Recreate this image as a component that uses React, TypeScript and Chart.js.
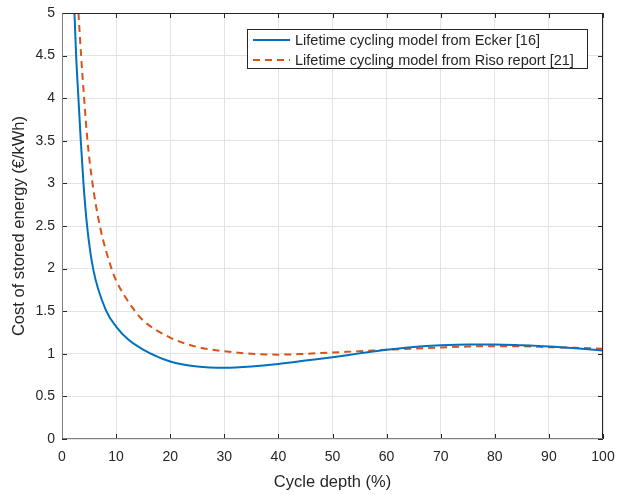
import { useEffect, useRef } from "react";
import { Chart, registerables } from "chart.js";

Chart.register(...registerables);

// Cycle depth (%) and cost (€/kWh)
const eckerDepth = [2.31, 2.61, 3.04, 3.47, 3.97, 4.64, 5.75, 8.2, 10, 12.2, 15, 20, 25, 30, 35, 40, 45, 50, 55, 60, 65, 70, 75, 80, 85, 90, 95, 100];
const eckerCost = [5.0, 4.5, 4.0, 3.5, 3.0, 2.5, 2.0, 1.5, 1.32, 1.17, 1.05, 0.91, 0.85, 0.835, 0.85, 0.88, 0.92, 0.96, 1.005, 1.047, 1.08, 1.1, 1.11, 1.11, 1.1, 1.086, 1.065, 1.04];

const risoDepth = [3.04, 3.53, 4.09, 4.71, 5.64, 7.0, 9.15, 10, 13.5, 15, 20, 25, 30, 35, 40, 45, 50, 55, 60, 65, 70, 75, 80, 85, 90, 95, 100];
const risoCost = [5.0, 4.5, 4.0, 3.5, 3.0, 2.5, 2.0, 1.86, 1.5, 1.39, 1.19, 1.08, 1.03, 1.0, 0.99, 1.0, 1.016, 1.03, 1.047, 1.06, 1.074, 1.085, 1.09, 1.088, 1.078, 1.07, 1.06];

const seriesLabels = [
  "Lifetime cycling model from Ecker [16]",
  "Lifetime cycling model from Riso report [21]",
];
const xTitle = "Cycle depth (%)";
const yTitle = "Cost of stored energy (€/kWh)";

const FONT = "'Liberation Sans', Arial, Helvetica, sans-serif";
const TEXT = "#262626";

const boxPlugin = {
  id: "matlabBox",
  afterDraw(chart: any) {
    const { ctx, chartArea: a, scales } = chart;
    const xs = scales.x;
    const ys = scales.y;
    ctx.save();
    ctx.strokeStyle = TEXT;
    ctx.lineWidth = 1;
    const tl = 5;
    ctx.beginPath();
    xs.ticks.forEach((t: any) => {
      const px = Math.round(xs.getPixelForValue(t.value)) + 0.5;
      ctx.moveTo(px, a.bottom);
      ctx.lineTo(px, a.bottom - tl);
      ctx.moveTo(px, a.top);
      ctx.lineTo(px, a.top + tl);
    });
    ys.ticks.forEach((t: any) => {
      const py = Math.round(ys.getPixelForValue(t.value)) + 0.5;
      ctx.moveTo(a.left, py);
      ctx.lineTo(a.left + tl, py);
      ctx.moveTo(a.right, py);
      ctx.lineTo(a.right - tl, py);
    });
    ctx.stroke();
    const l = Math.round(a.left) + 0.5;
    const r = Math.round(a.right) - 0.5;
    const t = Math.round(a.top) + 0.5;
    const b = Math.round(a.bottom) - 0.5;
    ctx.strokeStyle = "#262626";
    ctx.beginPath();
    ctx.moveTo(l, t);
    ctx.lineTo(r, t);
    ctx.lineTo(r, b);
    ctx.stroke();
    ctx.strokeStyle = "#808080";
    ctx.beginPath();
    ctx.moveTo(l, t);
    ctx.lineTo(l, b);
    ctx.lineTo(r, b);
    ctx.stroke();

    // legend
    const lx = 247, ly = 29, lw = 340, lh = 39;
    ctx.fillStyle = "#ffffff";
    ctx.fillRect(lx, ly, lw, lh);
    ctx.strokeStyle = "#262626";
    ctx.strokeRect(lx + 0.5, ly + 0.5, lw, lh);
    ctx.font = `14.5px ${FONT}`;
    ctx.textBaseline = "middle";
    ctx.textAlign = "left";
    chart.data.datasets.forEach((ds: any, i: number) => {
      const yy = ly + 11 + i * 20;
      ctx.strokeStyle = ds.borderColor;
      ctx.lineWidth = ds.borderWidth;
      ctx.setLineDash(ds.borderDash || []);
      ctx.beginPath();
      ctx.moveTo(lx + 6, yy);
      ctx.lineTo(lx + 43, yy);
      ctx.stroke();
      ctx.setLineDash([]);
      ctx.fillStyle = TEXT;
      ctx.fillText(ds.label, lx + 48, yy + 1);
    });
    ctx.restore();
  },
};

export default function App() {
  const ref = useRef<HTMLCanvasElement>(null);
  useEffect(() => {
    document.body.style.margin = "0";
    const chart = new Chart(ref.current!, {
      type: "line",
      data: {
        datasets: [
          {
            label: seriesLabels[0],
            data: eckerDepth.map((x, i) => ({ x, y: eckerCost[i] })),
            borderColor: "#0072BD",
            borderWidth: 2,
            pointRadius: 0,
            cubicInterpolationMode: "monotone",
            fill: false,
          },
          {
            label: seriesLabels[1],
            data: risoDepth.map((x, i) => ({ x, y: risoCost[i] })),
            borderColor: "#D95319",
            borderWidth: 2,
            borderDash: [7, 5],
            pointRadius: 0,
            cubicInterpolationMode: "monotone",
            fill: false,
          },
        ],
      },
      options: {
        animation: false,
        responsive: true,
        maintainAspectRatio: false,
        layout: { padding: { top: 13, right: 16, left: 0, bottom: 0 } },
        plugins: {
          legend: { display: false },
          tooltip: { enabled: false },
        },
        scales: {
          x: {
            type: "linear",
            min: 0,
            max: 100,
            afterFit: (s: any) => {
              s.height = 56;
              s.paddingLeft = 0;
              s.paddingRight = 0;
            },
            ticks: {
              stepSize: 10,
              padding: 10,
              color: TEXT,
              font: { family: FONT, size: 14 },
              callback: (v: any) => String(v),
            },
            grid: { color: "#e3e3e3", drawTicks: false },
            border: { display: false },
            title: {
              display: true,
              text: xTitle,
              color: TEXT,
              font: { family: FONT, size: 16.5 },
              padding: { top: 0, bottom: 3 },
            },
          },
          y: {
            type: "linear",
            min: 0,
            max: 5,
            afterFit: (s: any) => {
              s.width = 62;
              s.paddingTop = 0;
              s.paddingBottom = 0;
            },
            ticks: {
              stepSize: 0.5,
              padding: 7,
              color: TEXT,
              font: { family: FONT, size: 14 },
              callback: (v: any) => String(v),
            },
            grid: { color: "#e3e3e3", drawTicks: false },
            border: { display: false },
            title: {
              display: true,
              text: yTitle,
              color: TEXT,
              font: { family: FONT, size: 16.5 },
              padding: { top: 10, bottom: 0 },
            },
          },
        },
      },
      plugins: [boxPlugin],
    });
    return () => chart.destroy();
  }, []);
  return (
    <div style={{ width: 619, height: 495, position: "relative" }}>
      <canvas ref={ref} />
    </div>
  );
}
